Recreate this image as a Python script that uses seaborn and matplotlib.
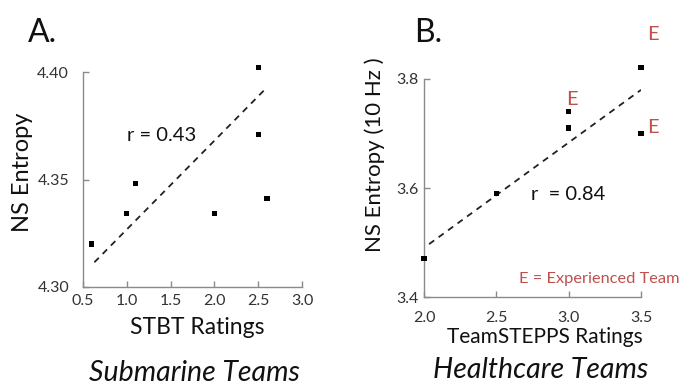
import matplotlib
matplotlib.use("Agg")
import matplotlib.pyplot as plt
import seaborn as sns
import pandas as pd

# ---- data ----
sub_x = [0.6, 1.0, 1.1, 2.0, 2.5, 2.5, 2.6]
sub_y = [4.320, 4.334, 4.348, 4.334, 4.402, 4.371, 4.341]
sub_fit_x = [0.63, 2.57]
sub_fit_y = [4.3115, 4.3916]
sub_r = "r = 0.43"
sub_xticks = [0.5, 1.0, 1.5, 2.0, 2.5, 3.0]
sub_yticks = [4.30, 4.35, 4.40]

hc_x = [2.0, 2.5, 3.0, 3.0, 3.5, 3.5]
hc_y = [3.471, 3.590, 3.741, 3.710, 3.821, 3.700]
hc_experienced = [False, False, True, False, True, True]
hc_fit_x = [2.035, 3.5]
hc_fit_y = [3.497, 3.780]
hc_r = "r  = 0.84"
hc_xticks = [2.0, 2.5, 3.0, 3.5]
hc_yticks = [3.4, 3.6, 3.8]

sns.set_theme(style="white")
plt.rcParams['font.family'] = ['Lato', 'DejaVu Sans']

RED = "#c0504d"
SPINE = "#8a8a8a"
INK = "#111111"

fig = plt.figure(figsize=(6.86, 3.86), dpi=100)
W, H = 686.0, 386.0

def px_axes(l, t, r, b):
    return fig.add_axes([l / W, 1 - b / H, (r - l) / W, (b - t) / H])

axA = px_axes(83, 72, 302, 287)
axB = px_axes(424, 79, 641, 297)

def style(ax, ypad, xpad):
    for s in ["top", "right"]:
        ax.spines[s].set_visible(False)
    for s in ["left", "bottom"]:
        ax.spines[s].set_color(SPINE)
        ax.spines[s].set_linewidth(1.0)
    ax.tick_params(axis="both", direction="in", length=4, width=1,
                   color=SPINE, labelcolor="#333333", labelsize=11.5,
                   left=True, bottom=True)
    ax.tick_params(axis="y", pad=ypad)
    ax.tick_params(axis="x", pad=xpad)

# ---- Panel A ----
dfA = pd.DataFrame({"x": sub_x, "y": sub_y})
fitA = pd.DataFrame({"x": sub_fit_x, "y": sub_fit_y})
sns.lineplot(data=fitA, x="x", y="y", ax=axA, color="#222222", lw=1.3,
             linestyle=(0, (3.5, 3.0)))
sns.scatterplot(data=dfA, x="x", y="y", ax=axA, marker="s", s=14,
                color="black", edgecolor="none", clip_on=False, zorder=5)
axA.set_xlim(0.5, 3.0)
axA.set_ylim(4.30, 4.40)
axA.set_xticks(sub_xticks)
axA.set_xticklabels([f"{v:.1f}" for v in sub_xticks])
axA.set_yticks(sub_yticks)
axA.set_yticklabels([f"{v:.2f}" for v in sub_yticks])
style(axA, ypad=10, xpad=5)
for c in axA.collections:
    c.set_clip_on(False)
axA.text(0.20, 0.705, sub_r, transform=axA.transAxes, fontsize=14.5,
         color=INK, ha="left", va="center")
axA.set_xlabel("STBT Ratings", fontsize=16.5, color=INK)
axA.xaxis.set_label_coords(0.52, -0.19)
axA.xaxis.label.set_va("center")
axA.set_ylabel("NS Entropy", fontsize=17, color=INK)
axA.yaxis.set_label_coords(-0.274, 0.535)
axA.yaxis.label.set_va("center")

# ---- Panel B ----
dfB = pd.DataFrame({"x": hc_x, "y": hc_y, "exp": hc_experienced})
fitB = pd.DataFrame({"x": hc_fit_x, "y": hc_fit_y})
sns.lineplot(data=fitB, x="x", y="y", ax=axB, color="#222222", lw=1.3,
             linestyle=(0, (3.5, 3.0)))
sns.scatterplot(data=dfB, x="x", y="y", ax=axB, marker="s", s=14,
                color="black", edgecolor="none", clip_on=False, zorder=5)
for c in axB.collections:
    c.set_clip_on(False)
axB.set_xlim(2.0, 3.5)
axB.set_ylim(3.4, 3.8)
axB.set_xticks(hc_xticks)
axB.set_xticklabels([f"{v:.1f}" for v in hc_xticks])
axB.set_yticks(hc_yticks)
axB.set_yticklabels([f"{v:.1f}" for v in hc_yticks])
style(axB, ypad=4, xpad=10)

e_offsets = [(3, 12), (12, 33), (12, 6)]
k = 0
for xv, yv, e in zip(hc_x, hc_y, hc_experienced):
    if e:
        axB.annotate("E", (xv, yv), xytext=e_offsets[k], textcoords="offset pixels",
                     ha="center", va="center", color=RED, fontsize=14.5,
                     annotation_clip=False)
        k += 1

axB.text(0.495, 0.468, hc_r, transform=axB.transAxes, fontsize=14.5,
         color=INK, ha="left", va="center")
fig.text(680 / W, 1 - 279 / H, "E = Experienced Team",
         fontsize=11.8, color=RED, ha="right", va="center")
axB.set_xlabel("TeamSTEPPS Ratings", fontsize=15, color=INK)
axB.xaxis.set_label_coords(0.558, -0.183)
axB.xaxis.label.set_va("center")
axB.set_ylabel("NS Entropy (10 Hz )", fontsize=16, color=INK)
axB.yaxis.set_label_coords(-0.226, 0.651)
axB.yaxis.label.set_va("center")

# ---- panel letters and titles ----
fig.text(28 / W, 1 - 33 / H, "A.", fontsize=23, color=INK, ha="left", va="center")
fig.text(414 / W, 1 - 33 / H, "B.", fontsize=23, color=INK, ha="left", va="center")
fig.text(194.5 / W, 1 - 373 / H, "Submarine Teams", fontsize=20.5, style="italic",
         color=INK, ha="center", va="center")
fig.text(540.5 / W, 1 - 370 / H, "Healthcare Teams", fontsize=20.5, style="italic",
         color=INK, ha="center", va="center")

fig.savefig("out.png", dpi=100, facecolor="white")
